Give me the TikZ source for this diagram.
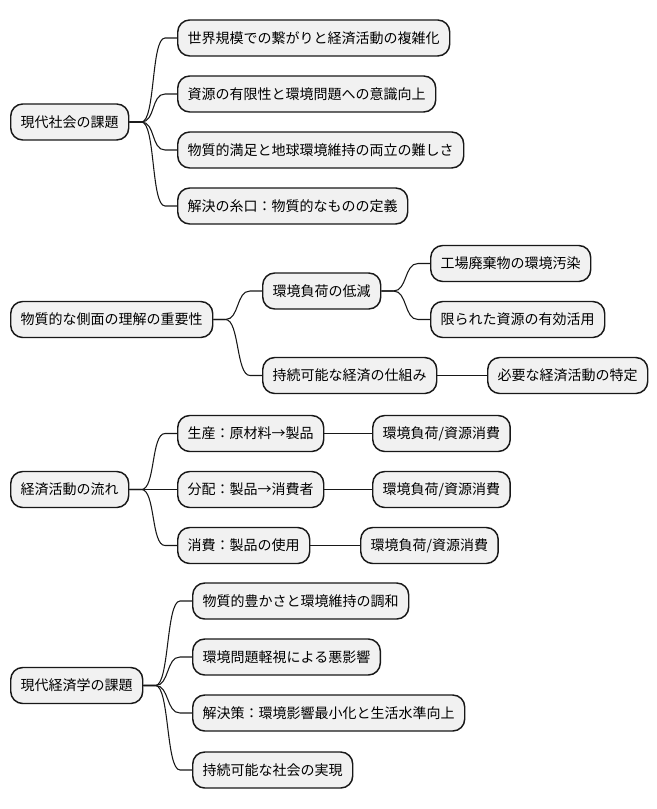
\documentclass[tikz,border=0pt]{standalone}
\usepackage{fontspec}
\setmainfont{Noto Sans CJK JP}
\usetikzlibrary{calc}
\definecolor{boxfill}{HTML}{F1F1F1}
\definecolor{boxline}{HTML}{181818}
\tikzset{
	topic/.style={draw=boxline, fill=boxfill, line width=1.1pt, rounded corners=9pt,
		anchor=west, minimum height=27pt, inner xsep=7.5pt, inner ysep=0pt,
		font=\fontsize{10.5}{12}\selectfont},
	link/.style={draw=boxline, line width=0.8pt}
}
\newcommand{\branch}[2]{\draw[link] (#1.east) -- ++(12,0) .. controls ($(#1.east)+(26,0)$) and ($(#2.west)+(-26,0)$) .. ($(#2.west)+(-12,0)$) -- (#2.west);}
\begin{document}
\begin{tikzpicture}[x=0.75pt, y=-0.75pt]
	\useasboundingbox (0,0) rectangle (656,809);
	\node[topic] (s) at (10,122) {現代社会の課題};
	\node[topic] (s1) at (177,38) {世界規模での繋がりと経済活動の複雑化};
	\node[topic] (s2) at (177,94) {資源の有限性と環境問題への意識向上};
	\node[topic] (s3) at (177,150) {物質的満足と地球環境維持の両立の難しさ};
	\node[topic] (s4) at (177,206) {解決の糸口：物質的なものの定義};
	\foreach \c in {s1,s2,s3,s4} {\branch{s}{\c}}

	\node[topic] (m) at (10,319.5) {物質的な側面の理解の重要性};
	\node[topic] (m1) at (262,291) {環境負荷の低減};
	\node[topic] (m11) at (430,263.5) {工場廃棄物の環境汚染};
	\node[topic] (m12) at (430,319.5) {限られた資源の有効活用};
	\node[topic] (m2) at (262,375.5) {持続可能な経済の仕組み};
	\node[topic] (m21) at (487,375.5) {必要な経済活動の特定};
	\branch{m}{m1} \branch{m}{m2}
	\branch{m1}{m11} \branch{m1}{m12}
	\draw[link] (m2.east) -- (m21.west);

	\node[topic] (f) at (10,489.5) {経済活動の流れ};
	\node[topic, minimum width=108pt] (f1) at (177,433.5) {生産：原材料→製品};
	\node[topic, minimum width=108pt] (f2) at (177,489.5) {分配：製品→消費者};
	\node[topic] (f3) at (177,545.5) {消費：製品の使用};
	\node[topic] (f11) at (372,433.5) {環境負荷/資源消費};
	\node[topic] (f21) at (372,489.5) {環境負荷/資源消費};
	\node[topic] (f31) at (360,545.5) {環境負荷/資源消費};
	\foreach \c in {f1,f2,f3} {\branch{f}{\c}}
	\draw[link] (f1.east) -- (f11.west);
	\draw[link] (f2.east) -- (f21.west);
	\draw[link] (f3.east) -- (f31.west);

	\node[topic] (e) at (10,685.5) {現代経済学の課題};
	\node[topic] (e1) at (192,601) {物質的豊かさと環境維持の調和};
	\node[topic] (e2) at (192,657) {環境問題軽視による悪影響};
	\node[topic] (e3) at (192,713) {解決策：環境影響最小化と生活水準向上};
	\node[topic] (e4) at (192,770) {持続可能な社会の実現};
	\foreach \c in {e1,e2,e3,e4} {\branch{e}{\c}}
\end{tikzpicture}
\end{document}
